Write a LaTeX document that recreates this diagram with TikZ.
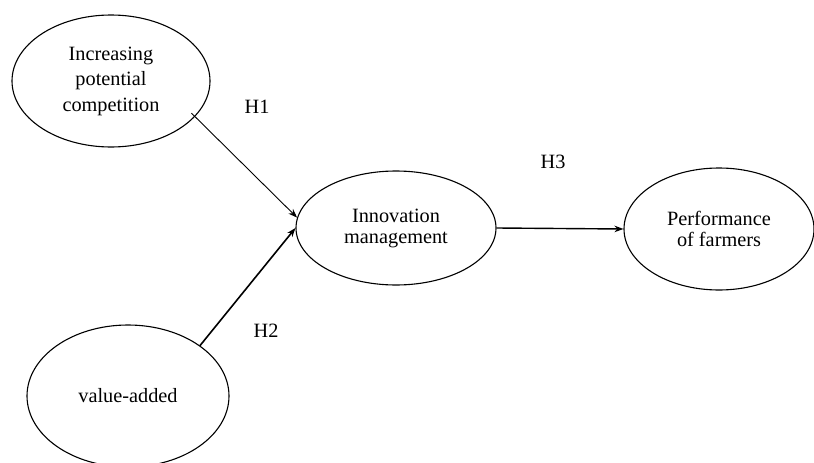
\documentclass[tikz,border=0pt]{standalone}
\usepackage{fontspec}
\setmainfont{Liberation Serif}
\usetikzlibrary{shapes.geometric,arrows.meta}
\begin{document}
\begin{tikzpicture}[x=1pt,y=-1pt,
  oval/.style={draw=black,line width=1.1pt,ellipse,inner sep=0pt,align=center,
    font=\fontsize{20.3}{21}\selectfont},
  lbl/.style={font=\fontsize{20.3}{24}\selectfont,inner sep=0pt},
  conn/.style={-{Stealth[length=9pt,width=6.5pt]}}]
\useasboundingbox (0,0) rectangle (814,463);
\node[oval,minimum width=198pt,minimum height=132pt,
  font=\fontsize{20.3}{25.5}\selectfont] (e1) at (111,81)
  {Increasing\\potential\\competition};
\node[oval,minimum width=202pt,minimum height=142pt] (e2) at (128,396)
  {value-added};
\node[oval,minimum width=200pt,minimum height=114pt] (e3) at (396,228)
  {Innovation\\management};
\node[oval,minimum width=190pt,minimum height=122pt] (e4) at (719,229)
  {Performance\\of farmers};
\node[lbl] (h1) at (257,107) {H1};
\node[lbl] (h2) at (266,331) {H2};
\node[lbl] (h3) at (553,162) {H3};
\draw[conn,line width=0.9pt,shorten <=-5pt] (e1.-23) -- (e3.174);
\draw[conn,line width=1.6pt] (e2.35) -- (e3.west);
\draw[conn,line width=1.4pt] (e3.east) -- (e4.west);
\end{tikzpicture}
\end{document}
